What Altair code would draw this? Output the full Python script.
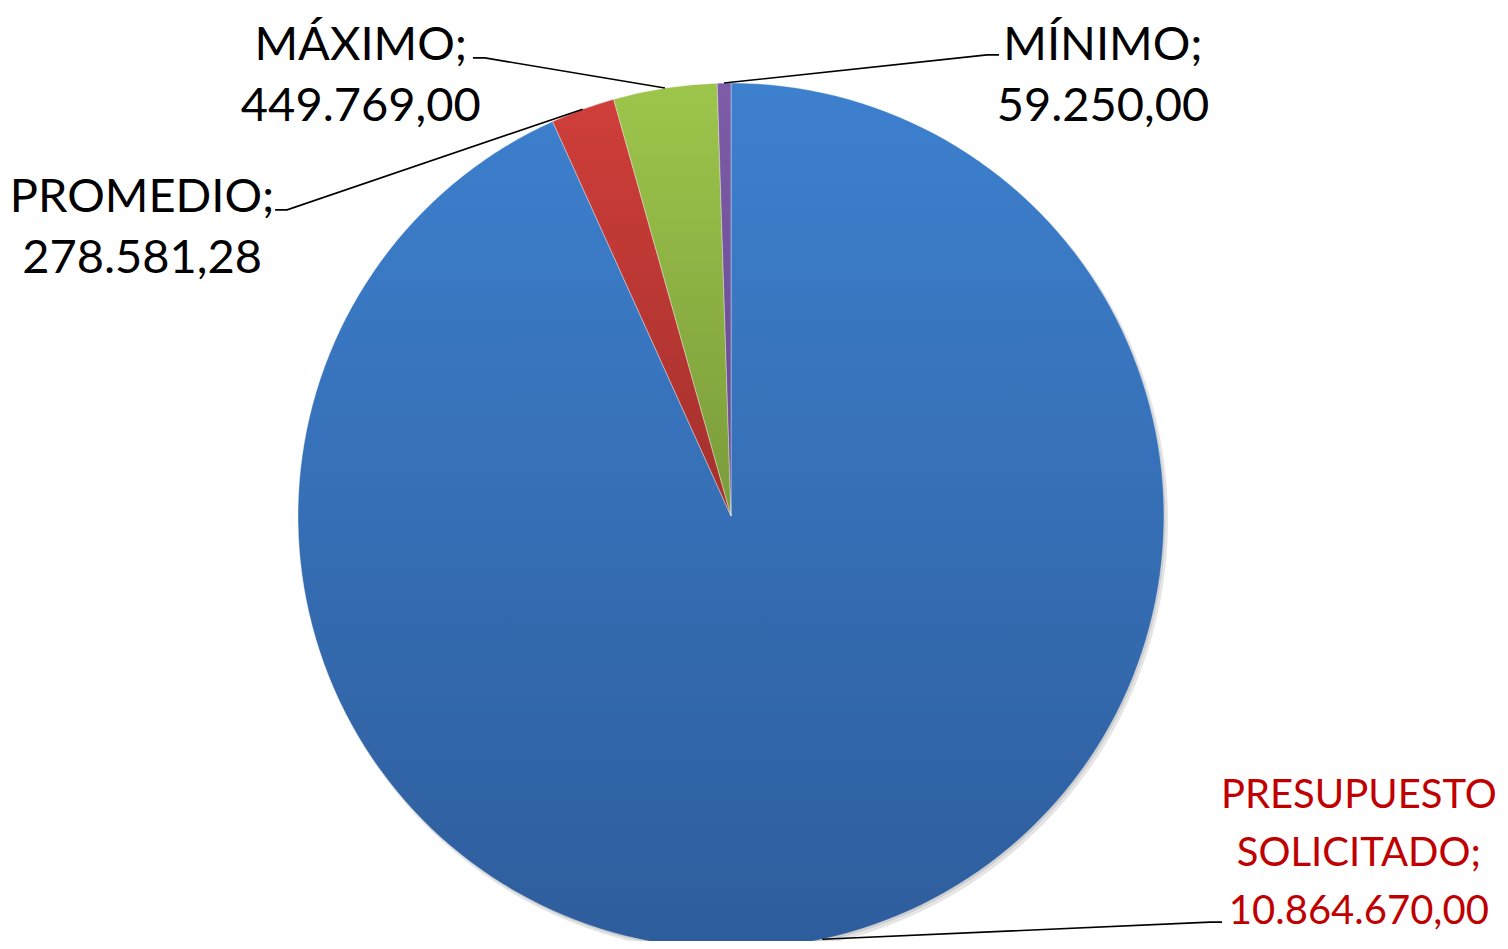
import math
import altair as alt
import pandas as pd

# ---------------- data ----------------
CATEGORIES = ["PRESUPUESTO SOLICITADO", "PROMEDIO", "MÁXIMO", "MÍNIMO"]
VALUES = [10864670.00, 278581.28, 449769.00, 59250.00]
NAME_LINES = [["PRESUPUESTO", "SOLICITADO;"], ["PROMEDIO;"], ["MÁXIMO;"], ["MÍNIMO;"]]

# ---------------- style / layout ----------------
TOP_COLORS = ["#3D80CE", "#CF3E3A", "#9DC54B", "#7E5CA8"]
BOTTOM_COLORS = ["#2E5D9C", "#A3302C", "#7A9B3A", "#634890"]
TEXT_COLORS = ["#C00000", "black", "black", "black"]
FONT = "Lato"
FONT_SIZES = [40, 47, 47, 47]
LINE_HEIGHTS = [58, 61, 61, 61]

W, H = 1492, 933          # view size (px)
CX, CY = 723, 508         # pie centre inside the view (px)
R = 433                   # pie radius (px)
STUB = 12 / R             # horizontal stub of leader lines (radius units)

# label anchor (first baseline, centre) and leader-line end, in radius units from the centre
LABEL_ANCHOR = [(1.450, -0.674), (-1.360, 0.702), (-0.855, 1.053), (0.859, 1.053)]
LEADER_END = [(1.134, -0.938), (-1.053, 0.707), (-0.596, 1.058), (0.619, 1.065)]


def es_format(v):
    s = f"{v:,.2f}"
    return s.replace(",", "#").replace(".", ",").replace("#", ".")


total = sum(VALUES)
rows, leaders, labels = [], [], []
acc = 0.0
for i, (cat, v) in enumerate(zip(CATEGORIES, VALUES)):
    start, end = acc, acc + v
    acc = end
    mid = (start + end) / 2 / total * 2 * math.pi
    rows.append({"category": cat, "value": v, "start": start, "end": end})
    ex, ey = math.sin(mid), math.cos(mid)
    lx, ly = LEADER_END[i]
    side = 1 if lx > ex else -1
    pts = [(ex, ey), (lx - side * STUB, ly), (lx, ly)]
    for k, (px, py) in enumerate(pts):
        leaders.append({"category": cat, "k": k, "x": px, "y": py})
    tx, ty = LABEL_ANCHOR[i]
    labels.append({"category": cat, "text": "\n".join(NAME_LINES[i] + [es_format(v)]),
                   "x": tx, "y": ty})

slices = pd.DataFrame(rows)
leader_df = pd.DataFrame(leaders)
label_df = pd.DataFrame(labels)

xscale = alt.Scale(domain=[-CX / R, (W - CX) / R], range=[0, W], nice=False, zero=False)
yscale = alt.Scale(domain=[-(H - CY) / R, CY / R], range=[H, 0], nice=False, zero=False)
tscale = alt.Scale(domain=[0, total], range=[0, 2 * math.pi])

X0 = alt.X(datum=0, type="quantitative", scale=xscale, axis=None)
Y0 = alt.Y(datum=0, type="quantitative", scale=yscale, axis=None)

layers = []

# soft shadow
layers.append(
    alt.Chart(slices).mark_arc(radius=R + 1, fill="#000000", opacity=0.10, xOffset=3, yOffset=4)
    .encode(theta=alt.Theta("start:Q", scale=tscale), theta2="end:Q", x=X0, y=Y0)
)
layers.append(
    alt.Chart(slices).mark_arc(radius=R, fill="#000000", opacity=0.10, xOffset=1.5, yOffset=2)
    .encode(theta=alt.Theta("start:Q", scale=tscale), theta2="end:Q", x=X0, y=Y0)
)

for i, cat in enumerate(CATEGORIES):
    grad = alt.Gradient(
        gradient="linear", x1=0, y1=0, x2=0, y2=1,
        stops=[alt.GradientStop(color=TOP_COLORS[i], offset=0),
               alt.GradientStop(color=BOTTOM_COLORS[i], offset=1)],
    )
    layers.append(
        alt.Chart(slices).transform_filter(alt.datum.category == cat)
        .mark_arc(radius=R, fill=grad, stroke="#FFFFFF", strokeWidth=0.6, strokeOpacity=0.6)
        .encode(theta=alt.Theta("start:Q", scale=tscale), theta2="end:Q", x=X0, y=Y0,
                tooltip=["category:N", "value:Q"])
    )

layers.append(
    alt.Chart(leader_df).mark_line(color="black", strokeWidth=1.6)
    .encode(x=alt.X("x:Q", scale=xscale, axis=None), y=alt.Y("y:Q", scale=yscale, axis=None),
            detail="category:N", order="k:Q")
)

for i, cat in enumerate(CATEGORIES):
    layers.append(
        alt.Chart(label_df).transform_filter(alt.datum.category == cat)
        .mark_text(font=FONT, fontSize=FONT_SIZES[i], lineHeight=LINE_HEIGHTS[i],
                   lineBreak="\n", align="center", baseline="alphabetic", color=TEXT_COLORS[i])
        .encode(x=alt.X("x:Q", scale=xscale, axis=None), y=alt.Y("y:Q", scale=yscale, axis=None),
                text="text:N")
    )

chart = (
    alt.layer(*layers)
    .properties(width=W, height=H, padding=0, autosize=alt.AutoSizeParams(type="none"),
                background="white")
    .configure_view(stroke=None)
)

chart.save("out.html", embed_options={"renderer": "svg", "actions": False})
